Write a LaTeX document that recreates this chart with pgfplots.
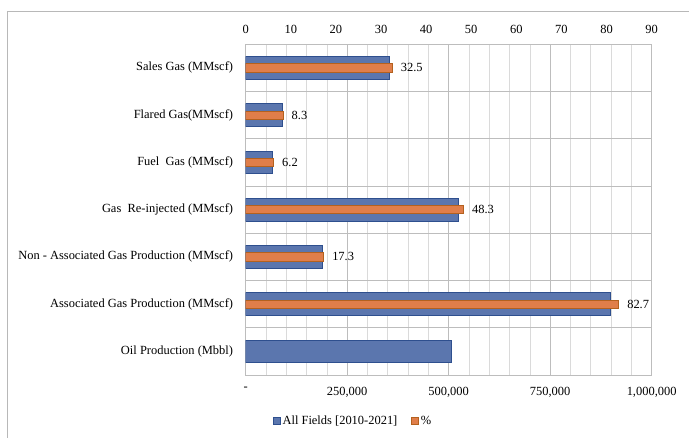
\documentclass[border=0pt]{standalone}
\usepackage{pgfplots}
\pgfplotsset{compat=1.18}
\usepackage{pgfplotstable}
\usepackage{fontspec}
\setmainfont{Liberation Serif}

\definecolor{fieldblue}{HTML}{5B76AE}
\definecolor{fieldedge}{HTML}{2E4F8E}
\definecolor{pctorange}{HTML}{E07E4A}
\definecolor{pctedge}{HTML}{B4611E}
\definecolor{minorgray}{HTML}{DADADA}
\definecolor{majorgray}{HTML}{BDBDBD}
\definecolor{framegray}{HTML}{B8B8B8}

% All fields totals, 2010-2021 (row 0 = Sales Gas ... row 6 = Oil Production)
\pgfplotstableread{
pos total
0   353000
1   90000
2   66000
3   523000
4   188000
5   899000
6   506000
}\fieldtotals

% Percentages (no value for oil production)
\pgfplotstableread{
pos pct
0   32.5
1   8.3
2   6.2
3   48.3
4   17.3
5   82.7
}\fieldpct

\begin{document}
\fontsize{12.5}{15}\selectfont
\begin{tikzpicture}
\path[use as bounding box] (0,0) rectangle (689bp,-438bp);
\draw[framegray, line width=0.8bp] (7bp,-438bp) -- (7bp,-11bp) -- (689bp,-11bp);

\pgfplotsset{
  every axis/.append style={font=\fontsize{12.5}{15}\selectfont},
  chartframe/.style={
    at={(245.67bp,-375bp)}, anchor=south west,
    width=406bp, height=330.7bp, scale only axis,
    ymin=-0.5, ymax=6.5, y dir=reverse,
  },
}

% Totals on the bottom axis
\begin{axis}[
  chartframe,
  xbar, bar width=0.48,
  xmin=0, xmax=1000000,
  scaled x ticks=false,
  axis line style={majorgray, line width=0.8bp},
  xtick={0,250000,500000,750000,1000000},
  xticklabels={{-},{250,000},{500,000},{750,000},{1,000,000}},
  minor xtick={50000,100000,...,950000},
  xmajorgrids, xminorgrids,
  major grid style={majorgray, line width=0.8bp},
  minor grid style={minorgray, line width=0.6bp},
  ytick={0,...,6},
  yticklabels={
    {Sales Gas (MMscf)},
    {Flared Gas(MMscf)},
    {Fuel\ \ Gas (MMscf)},
    {Gas\ \ Re-injected (MMscf)},
    {Non - Associated Gas Production (MMscf)},
    {Associated Gas Production (MMscf)},
    {Oil Production (Mbbl)}},
  extra y ticks={0.5,1.5,...,5.5},
  extra y tick labels={},
  extra y tick style={ymajorgrids, major grid style={majorgray, line width=0.8bp}},
  tick style={draw=none},
  xticklabel style={yshift=-8bp},
  yticklabel style={xshift=-4bp},
]
\addplot[fill=fieldblue, draw=fieldedge, line width=0.8bp]
  table[x=total, y=pos] {\fieldtotals};
\end{axis}

% Percentages on the top axis
\begin{axis}[
  chartframe,
  xbar, bar width=0.175,
  xmin=0, xmax=90,
  axis x line*=top, axis y line=none,
  axis line style={majorgray, line width=0.8bp},
  xtick={0,10,...,90},
  tick style={draw=none},
  xticklabel style={yshift=6bp},
  /pgf/number format/assume math mode=true,
  nodes near coords,
  nodes near coords style={anchor=west, xshift=4bp, text=black,
    /pgf/number format/fixed, /pgf/number format/precision=1,
    /pgf/number format/fixed zerofill},
  legend style={at={(0.265,-0.139)}, anchor=center, draw=none,
    legend columns=2, font=\fontsize{12.5}{15}\selectfont,
    /tikz/every even column/.append style={column sep=12bp}},
  legend image code/.code={\draw[#1] (0bp,-3.3bp) rectangle (6.6bp,3.3bp);},
]
\addlegendimage{fill=fieldblue, draw=fieldedge, line width=0.6bp}
\addlegendentry{All Fields [2010-2021]}
\addplot[fill=pctorange, draw=pctedge, line width=0.8bp]
  table[x=pct, y=pos] {\fieldpct};
\addlegendentry{\%}
\end{axis}
\end{tikzpicture}
\end{document}
